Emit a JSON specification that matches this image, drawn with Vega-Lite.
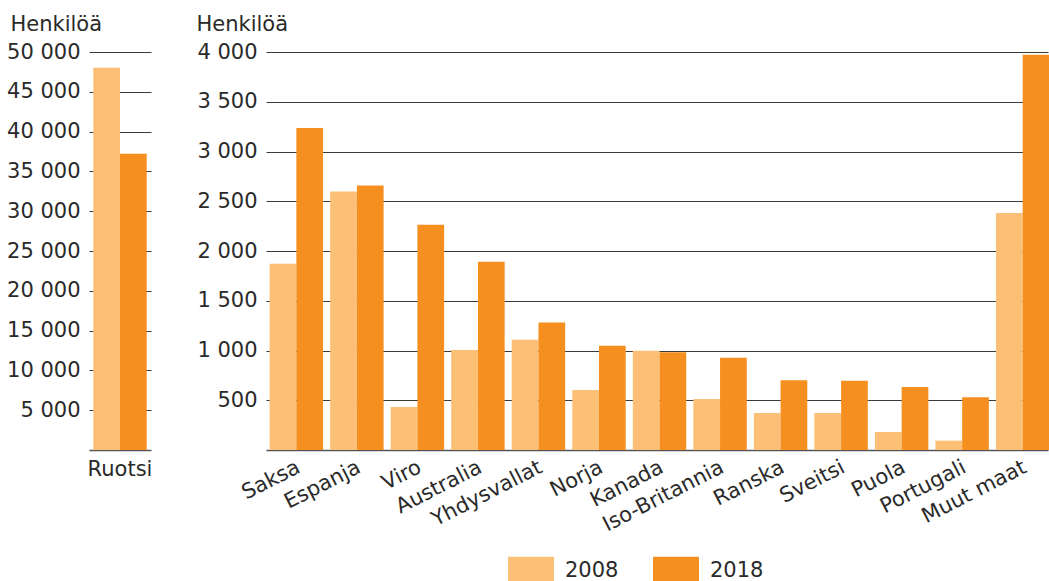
{
  "$schema": "https://vega.github.io/schema/vega-lite/v6.json",
  "background": "white",
  "padding": {"left": 6, "top": 13, "right": 0, "bottom": 0},
  "config": {
    "font": "DejaVu Sans",
    "view": {"stroke": null},
    "locale": {"number": {"decimal": ",", "thousands": " ", "grouping": [3], "currency": ["", " €"]}},
    "axis": {
      "labelFont": "DejaVu Sans", "labelFontSize": 21, "labelColor": "#2a2a2a",
      "titleFont": "DejaVu Sans", "titleFontSize": 21, "titleFontWeight": "normal", "titleColor": "#2a2a2a",
      "gridColor": "#3a3a3a", "gridOpacity": 1, "gridWidth": 1,
      "domainColor": "#555555", "domainWidth": 1.5, "ticks": false
    },
    "legend": {
      "labelFont": "DejaVu Sans", "labelFontSize": 21, "labelColor": "#2a2a2a", "padding": 0
    }
  },
  "datasets": {
    "ruotsi": [
      {"maa": "Ruotsi", "vuosi": "2008", "henkiloa": 48030},
      {"maa": "Ruotsi", "vuosi": "2018", "henkiloa": 37210}
    ],
    "muut": [
      {"maa": "Saksa", "vuosi": "2008", "henkiloa": 1872},
      {"maa": "Saksa", "vuosi": "2018", "henkiloa": 3235},
      {"maa": "Espanja", "vuosi": "2008", "henkiloa": 2597},
      {"maa": "Espanja", "vuosi": "2018", "henkiloa": 2658},
      {"maa": "Viro", "vuosi": "2008", "henkiloa": 433},
      {"maa": "Viro", "vuosi": "2018", "henkiloa": 2265},
      {"maa": "Australia", "vuosi": "2008", "henkiloa": 1005},
      {"maa": "Australia", "vuosi": "2018", "henkiloa": 1893},
      {"maa": "Yhdysvallat", "vuosi": "2008", "henkiloa": 1107},
      {"maa": "Yhdysvallat", "vuosi": "2018", "henkiloa": 1282},
      {"maa": "Norja", "vuosi": "2008", "henkiloa": 604},
      {"maa": "Norja", "vuosi": "2018", "henkiloa": 1047},
      {"maa": "Kanada", "vuosi": "2008", "henkiloa": 997},
      {"maa": "Kanada", "vuosi": "2018", "henkiloa": 983},
      {"maa": "Iso-Britannia", "vuosi": "2008", "henkiloa": 513},
      {"maa": "Iso-Britannia", "vuosi": "2018", "henkiloa": 926},
      {"maa": "Ranska", "vuosi": "2008", "henkiloa": 372},
      {"maa": "Ranska", "vuosi": "2018", "henkiloa": 701},
      {"maa": "Sveitsi", "vuosi": "2008", "henkiloa": 372},
      {"maa": "Sveitsi", "vuosi": "2018", "henkiloa": 695},
      {"maa": "Puola", "vuosi": "2008", "henkiloa": 181},
      {"maa": "Puola", "vuosi": "2018", "henkiloa": 634},
      {"maa": "Portugali", "vuosi": "2008", "henkiloa": 94},
      {"maa": "Portugali", "vuosi": "2018", "henkiloa": 530},
      {"maa": "Muut maat", "vuosi": "2008", "henkiloa": 2383},
      {"maa": "Muut maat", "vuosi": "2018", "henkiloa": 3973}
    ]
  },
  "spacing": 44,
  "hconcat": [
    {
      "data": {"name": "ruotsi"},
      "width": 62,
      "height": 398,
      "mark": {"type": "bar"},
      "encoding": {
        "x": {
          "field": "maa", "type": "nominal", "sort": null,
          "scale": {"paddingInner": 0, "paddingOuter": 0.08},
          "axis": {"title": null, "labelAngle": 0, "labelPadding": 8}
        },
        "xOffset": {"field": "vuosi", "type": "nominal"},
        "y": {
          "field": "henkiloa", "type": "quantitative",
          "scale": {"domain": [0, 50000], "nice": false},
          "axis": {
            "values": [5000, 10000, 15000, 20000, 25000, 30000, 35000, 40000, 45000, 50000],
            "format": ",d", "grid": true, "domain": false, "labelPadding": 9,
            "title": "Henkilöä", "titleAngle": 0, "titleAlign": "left", "titleBaseline": "alphabetic",
            "titleX": -79, "titleY": -22
          }
        },
        "color": {
          "field": "vuosi", "type": "nominal",
          "scale": {"domain": ["2008", "2018"], "range": ["#FBC076", "#F59020"]},
          "legend": {
            "title": null, "orient": "none", "direction": "horizontal",
            "legendX": 419, "legendY": 496,
            "symbolType": "M-1,-0.63L1,-0.63L1,0.63L-1,0.63Z",
            "symbolSize": 2116, "symbolStrokeWidth": 0, "symbolOpacity": 1,
            "labelOffset": 11, "columnPadding": 34, "labelBaseline": "middle"
          }
        }
      }
    },
    {
      "data": {"name": "muut"},
      "width": 782,
      "height": 398,
      "mark": {"type": "bar"},
      "encoding": {
        "x": {
          "field": "maa", "type": "nominal", "sort": null,
          "scale": {"paddingInner": 0.2, "paddingOuter": 0.06},
          "axis": {"title": null, "labelAngle": -27, "labelAlign": "right", "labelBaseline": "top", "labelPadding": 6}
        },
        "xOffset": {"field": "vuosi", "type": "nominal"},
        "y": {
          "field": "henkiloa", "type": "quantitative",
          "scale": {"domain": [0, 4000], "nice": false},
          "axis": {
            "values": [500, 1000, 1500, 2000, 2500, 3000, 3500, 4000],
            "format": ",d", "grid": true, "domain": false, "labelPadding": 9,
            "title": "Henkilöä", "titleAngle": 0, "titleAlign": "left", "titleBaseline": "alphabetic",
            "titleX": -70, "titleY": -22
          }
        },
        "color": {
          "field": "vuosi", "type": "nominal",
          "scale": {"domain": ["2008", "2018"], "range": ["#FBC076", "#F59020"]}
        }
      }
    }
  ]
}
